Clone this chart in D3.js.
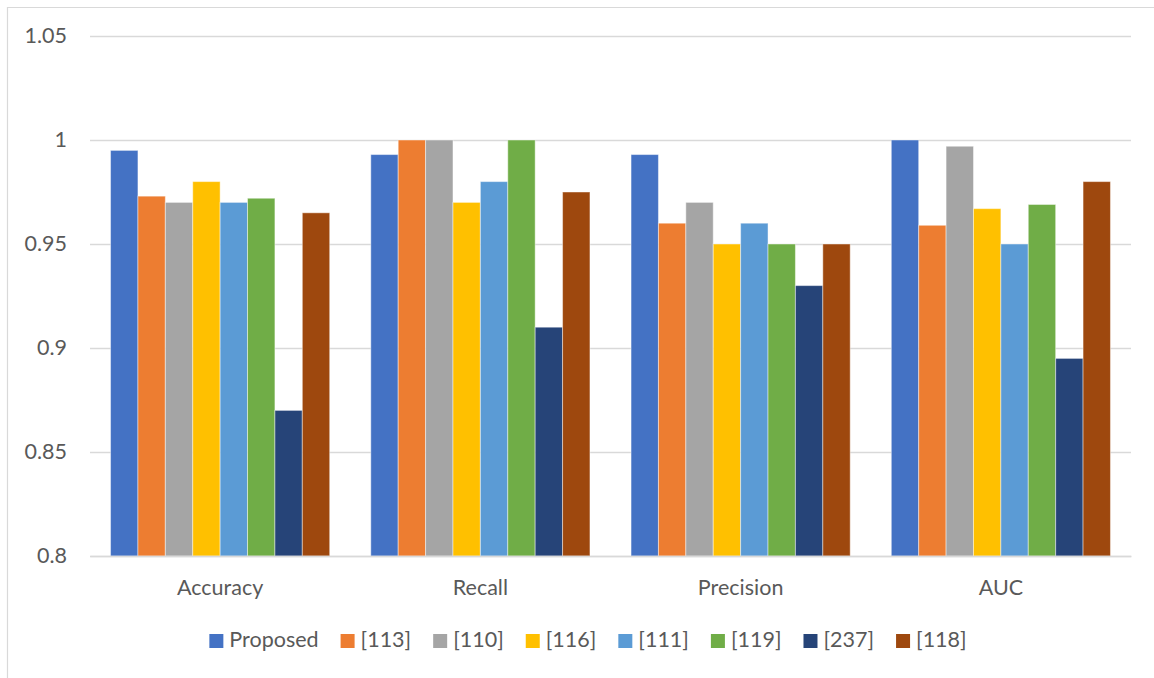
<!DOCTYPE html>
<html>
<head>
<meta charset="utf-8">
<script src="https://cdn.jsdelivr.net/npm/d3@7"></script>
<style>
  html, body { margin: 0; padding: 0; background: #fff; }
  svg { display: block; }
  text { font-family: Lato, "Open Sans", sans-serif; fill: #595959; }
</style>
</head>
<body>
<svg id="chart" width="1154" height="678"></svg>
<script>
// Metric groups along the x axis
const categories = ["Accuracy", "Recall", "Precision", "AUC"];

// Methods compared (legend order)
const seriesNames = ["Proposed", "[113]", "[110]", "[116]", "[111]", "[119]", "[237]", "[118]"];

// Scores per method, in the order of `categories`
const proposed = [0.995, 0.993, 0.993, 1.000];
const ref113   = [0.973, 1.000, 0.960, 0.959];
const ref110   = [0.970, 1.000, 0.970, 0.997];
const ref116   = [0.980, 0.970, 0.950, 0.967];
const ref111   = [0.970, 0.980, 0.960, 0.950];
const ref119   = [0.972, 1.000, 0.950, 0.969];
const ref237   = [0.870, 0.910, 0.930, 0.895];
const ref118   = [0.965, 0.975, 0.950, 0.980];

// Y axis ticks
const yTicks = [0.8, 0.85, 0.9, 0.95, 1, 1.05];
const yTickLabels = ["0.8", "0.85", "0.9", "0.95", "1", "1.05"];

const seriesValues = [proposed, ref113, ref110, ref116, ref111, ref119, ref237, ref118];
const seriesColors = ["#4472C4", "#ED7D31", "#A5A5A5", "#FFC000", "#5B9BD5", "#70AD47", "#264478", "#9E480E"];

const svg = d3.select("#chart");
const W = 1154, H = 678;
const plot = { left: 90, right: 1131, top: 36, bottom: 556 };
const fontSize = 21.5;

// Outer frame (top and left edges visible)
svg.append("path")
  .attr("d", `M7.5,${H} V7.5 H${W}`)
  .attr("fill", "none")
  .attr("stroke", "#d9d9d9")
  .attr("stroke-width", 1.2);

const x0 = d3.scaleBand()
  .domain(categories)
  .range([plot.left, plot.right])
  .paddingInner(0)
  .paddingOuter(0);

const x1 = d3.scaleBand()
  .domain(seriesNames)
  .range([0, x0.bandwidth()])
  .paddingInner(0)
  .paddingOuter(0.75);

const y = d3.scaleLinear()
  .domain([0.8, 1.05])
  .range([plot.bottom, plot.top]);

// Horizontal gridlines and y tick labels
const yAxis = d3.axisLeft(y)
  .tickValues(yTicks)
  .tickSize(-(plot.right - plot.left))
  .tickPadding(23)
  .tickFormat((d, i) => yTickLabels[i]);

const gy = svg.append("g")
  .attr("transform", `translate(${plot.left},0)`)
  .call(yAxis);
gy.select(".domain").remove();
gy.selectAll(".tick line")
  .attr("stroke", "#d9d9d9")
  .attr("stroke-width", 1.5);
gy.selectAll(".tick text")
  .attr("font-size", fontSize)
  .attr("font-family", "Lato, 'Open Sans', sans-serif")
  .attr("fill", "#595959");

// Bars
const groups = svg.append("g")
  .selectAll("g")
  .data(categories)
  .join("g")
  .attr("transform", d => `translate(${x0(d)},0)`);

groups.selectAll("rect")
  .data((c, ci) => seriesNames.map((s, si) => ({ series: s, si, value: seriesValues[si][ci] })))
  .join("rect")
  .attr("x", d => x1(d.series))
  .attr("width", x1.bandwidth())
  .attr("y", d => y(d.value))
  .attr("height", d => y(0.8) - y(d.value))
  .attr("fill", d => seriesColors[d.si])
  .attr("stroke", "#ffffff")
  .attr("stroke-opacity", 0.45)
  .attr("stroke-width", 1);

// Category axis
const xAxis = d3.axisBottom(x0).tickSize(0).tickPadding(24);
const gx = svg.append("g")
  .attr("transform", `translate(0,${plot.bottom})`)
  .call(xAxis);
gx.select(".domain")
  .attr("stroke", "#d9d9d9")
  .attr("stroke-width", 1.5);
gx.selectAll(".tick text")
  .attr("font-size", fontSize)
  .attr("font-family", "Lato, 'Open Sans', sans-serif")
  .attr("fill", "#595959");

// Legend
const legend = svg.append("g").attr("transform", "translate(0,647)");
const sw = 14, gapText = 6, gapItem = 22;
const items = legend.selectAll("g")
  .data(seriesNames)
  .join("g");
items.append("rect")
  .attr("width", sw)
  .attr("height", sw)
  .attr("y", -13)
  .attr("fill", (d, i) => seriesColors[i]);
items.append("text")
  .attr("x", sw + gapText)
  .attr("font-size", fontSize)
  .text(d => d);

let cursor = 0;
const offsets = [];
items.each(function() {
  offsets.push(cursor);
  const tw = d3.select(this).select("text").node().getComputedTextLength();
  cursor += sw + gapText + tw + gapItem;
});
const totalW = cursor - gapItem;
const startX = 588 - totalW / 2;
items.attr("transform", (d, i) => `translate(${startX + offsets[i]},0)`);
</script>
</body>
</html>
